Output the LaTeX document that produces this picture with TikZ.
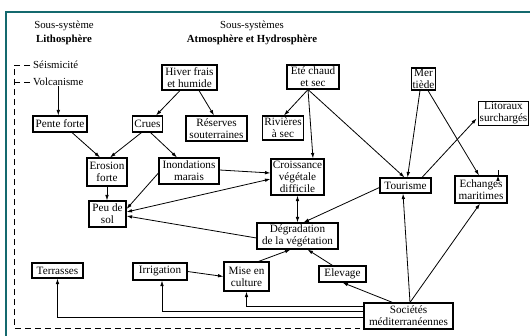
\documentclass[tikz,border=0pt]{standalone}
\usepackage{fontspec}
\setmainfont{Liberation Serif}
\usetikzlibrary{arrows.meta,calc,backgrounds}
\definecolor{frameteal}{RGB}{20,105,110}
\begin{document}
\begin{tikzpicture}[x=1pt,y=-1pt,
 box/.style={draw, line width=1.1pt, fill=white, align=center, inner xsep=1.5pt, inner ysep=1pt, font=\fontsize{11.2}{12}\selectfont},
 arr/.style={line width=0.8pt, -{Latex[length=5.5pt,width=3.6pt]}},
 darr/.style={line width=0.8pt, {Latex[length=5.5pt,width=3.6pt]}-{Latex[length=5.5pt,width=3.6pt]}},
 dsh/.style={line width=0.9pt, dash pattern=on 6pt off 4pt},
 lbl/.style={inner sep=0pt, font=\fontsize{10.8}{12}\selectfont}]
\useasboundingbox (0,0) rectangle (530,336);
\fill[white] (0,0) rectangle (530,336);
\draw[frameteal, line width=1.1pt] (6,336) -- (6,12) -- (530,12);

% headers
\node[lbl, align=center] (hl) at (64,33) {Sous-système\\[2pt]\textbf{Lithosphère}};
\node[lbl, align=center] (ha) at (252,33) {Sous-systèmes\\[2pt]\textbf{Atmosphère et Hydrosphère}};
\node[lbl, anchor=west] (seis) at (33,65) {Séismicité};
\node[lbl, anchor=west] (volc) at (33,82) {Volcanisme};

% boxes
\node[box, minimum width=55pt, minimum height=25pt] (hiver) at (189.5,77.5) {Hiver frais\\et humide};
\node[box, minimum width=52pt, minimum height=24pt] (ete) at (313,77) {Eté chaud\\et sec};
\node[box, minimum width=23pt, minimum height=22pt] (mer) at (423.5,79) {Mer\\tiède};
\node[box, minimum width=50pt, minimum height=23pt] (lit) at (503.5,113.5) {Litoraux\\surchargés};
\node[box, minimum width=54pt, minimum height=16pt] (pente) at (60,124) {Pente forte};
\node[box, minimum width=23pt, minimum height=16pt] (crues) at (147.5,124) {Crues};
\node[box, minimum width=61pt, minimum height=25pt] (res) at (216.5,128.5) {Réserves\\souterraines};
\node[box, minimum width=40pt, minimum height=24pt] (riv) at (283,128) {Rivières\\à sec};
\node[box, minimum width=40pt, minimum height=28pt] (erosion) at (107,172) {Erosion\\forte};
\node[box, minimum width=60pt, minimum height=26pt] (inond) at (189,171) {Inondations\\marais};
\node[box, minimum width=53pt, minimum height=36pt] (crois) at (297.5,177) {Croissance\\végétale\\difficile};
\node[box, minimum width=51pt, minimum height=15pt] (tour) at (405.5,185.5) {Tourisme};
\node[box, minimum width=52pt, minimum height=27pt] (ech) at (481,189.5) {Echanges\\maritimes};
\node[box, minimum width=37pt, minimum height=26pt] (peu) at (107.5,214) {Peu de\\sol};
\node[box, minimum width=81pt, minimum height=26pt] (deg) at (297.5,236) {Dégradation\\de la végétation};
\node[box, minimum width=51pt, minimum height=15pt] (terr) at (57.5,270.5) {Terrasses};
\node[box, minimum width=54pt, minimum height=17pt] (irr) at (160,271.5) {Irrigation};
\node[box, minimum width=45pt, minimum height=29pt] (mise) at (246.5,276.5) {Mise en\\culture};
\node[box, minimum width=47pt, minimum height=16pt] (elev) at (342.5,274) {Elevage};
\node[box, minimum width=89pt, minimum height=26pt] (soc) at (408.5,316) {Sociétés\\méditerranéennes};

% dashed boundary
\coordinate (tl) at (14,65);
\coordinate (bl) at (14,328);
\draw[dsh] ([xshift=-3pt]seis.west) -- (tl) -- (bl) -- ($(bl -| soc.west)+(-3,0)$);
\draw[dsh] ([xshift=-3pt]volc.west) -- (volc.west -| tl);

% dashed links
\begin{scope}[on background layer]
\draw[dsh, -{Latex[length=5.5pt,width=3.6pt]}] ($(res.south)+(-2.5,0)$) -- ($(irr.north)+(-2,0)$);
\end{scope}
\draw[dsh] ($(pente.south)+(-2,0)$) -- ($(pente.south)+(-2,0)$ |- terr.north);

% arrows
\draw[arr] (volc.south) -- (volc.south |- pente.north);
\draw[arr] ($(hiver.south)+(-9.5,0)$) -- ($(crues.north)+(8.5,0)$);
\draw[arr] ($(hiver.south)+(9.5,0)$) -- ($(res.north)+(-2.5,0)$);
\draw[arr] ($(pente.south)+(12,0)$) -- ($(erosion.north)+(-7,0)$);
\draw[arr] ($(crues.south)+(-6,0)$) -- ($(erosion.north)+(3,0)$);
\draw[arr] ($(crues.south)+(3,0)$) -- ($(inond.north)+(-12,0)$);
\draw[arr] (erosion.south) -- (erosion.south |- peu.north);
\draw[arr] ($(inond.west)+(0,2)$) -- ($(peu.east)+(0,-5)$);
\draw[darr] ($(peu.east)+(0,-2)$) -- ($(crois.west)+(0,2)$);
\draw[arr] ($(inond.east)+(0,-1)$) -- ($(crois.west)+(0,-4)$);
\draw[arr] ($(deg.west)+(0,2)$) -- ($(peu.east)+(0,2)$);
\coordinate (es) at ($(ete.south)+(-5,0)$);
\draw[arr] (es) -- ($(riv.north)+(1,0)$);
\draw[arr] (es) -- ($(crois.north)+(15.5,0)$);
\draw[arr] (es) -- ($(tour.north)+(-1,0)$);
\draw[arr] ($(mer.south)+(-3.5,0)$) -- ($(tour.north)+(2,0)$);
\draw[arr] ($(mer.south)+(4.5,0)$) -- ($(ech.north)+(-2,0)$);
\draw[arr] ($(tour.north)+(16.5,0)$) -- ($(lit.west)+(-1,5)$);
\draw[arr] ($(ech.north)+(17,0)$) -- ($(ech.north)+(17,0)$ |- lit.south);
\draw[arr] ($(tour.west)+(0,2)$) -- ($(deg.north)+(6,0)$);
\draw[darr] (crois.south) -- (deg.north);
\draw[arr] ($(mise.north)+(12,0)$) -- ($(deg.south)+(-7,0)$);
\draw[arr] ($(elev.north)+(-10,0)$) -- ($(deg.south)+(10,0)$);
\draw[arr] (irr.east) -- (mise.west);
\coordinate (st) at ($(soc.north)+(1.5,0)$);
\draw[arr] ($(soc.north)+(-16,0)$) -- (elev.south);
\draw[arr] (st) -- ($(tour.south)+(-2.5,0)$);
\draw[arr] (st) -- ($(ech.south)+(-1,0)$);
\draw[arr] ($(soc.west)+(0,-10)$) -| (mise.south);
\draw[arr] ($(soc.west)+(0,-4.5)$) -| ($(irr.south)+(2,0)$);
\draw[arr] ($(soc.west)+(0,1)$) -| (terr.south);
\end{tikzpicture}
\end{document}
